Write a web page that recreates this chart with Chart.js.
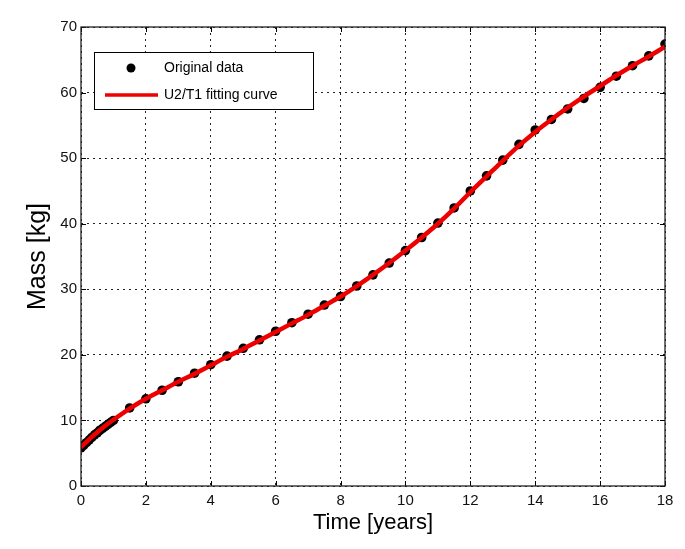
<!DOCTYPE html>
<html>
<head>
<meta charset="utf-8">
<script src="https://cdn.jsdelivr.net/npm/chart.js@4/dist/chart.umd.min.js"></script>
<style>
html,body{margin:0;padding:0;background:#fff;}
#wrap{width:685px;height:549px;}
</style>
</head>
<body>
<div id="wrap"><canvas id="c" width="685" height="549"></canvas></div>
<script>
// Original data (time in years, mass in kg)
const dataTime = [0, 0.083, 0.167, 0.25, 0.333, 0.417, 0.5, 0.583, 0.667, 0.75, 0.833, 0.917, 1.0,
  1.5, 2, 2.5, 3, 3.5, 4, 4.5, 5, 5.5, 6, 6.5, 7, 7.5, 8, 8.5, 9, 9.5, 10, 10.5, 11, 11.5, 12,
  12.5, 13, 13.5, 14, 14.5, 15, 15.5, 16, 16.5, 17, 17.5, 18];
const dataMass = [5.8, 6.2, 6.6, 7.0, 7.4, 7.8, 8.1, 8.5, 8.8, 9.1, 9.4, 9.7, 10.0,
  11.9, 13.3, 14.6, 15.9, 17.2, 18.5, 19.8, 21.0, 22.3, 23.6, 24.9, 26.2, 27.6, 28.9, 30.5, 32.2, 34.0, 35.9,
  37.9, 40.1, 42.4, 45.0, 47.3, 49.7, 52.1, 54.3, 55.9, 57.5, 59.1, 60.8, 62.5, 64.1, 65.6, 67.4];
// U2/T1 fitting curve
const fitTime = [0, 0.25, 0.5, 0.75, 1, 1.5, 2, 2.5, 3, 3.5, 4, 4.5, 5, 5.5, 6, 6.5, 7, 7.5, 8, 8.5, 9,
  9.5, 10, 10.5, 11, 11.5, 12, 12.5, 13, 13.5, 14, 14.5, 15, 15.5, 16, 16.5, 17, 17.5, 18];
const fitMass = [5.9, 7.1, 8.2, 9.2, 10.1, 11.8, 13.3, 14.6, 15.9, 17.1, 18.4, 19.7, 20.9, 22.2, 23.5, 24.8, 26.1,
  27.5, 28.9, 30.5, 32.2, 34.0, 35.9, 37.9, 40.0, 42.3, 44.8, 47.2, 49.6, 51.9, 54.0, 55.9, 57.7, 59.4, 61.0,
  62.6, 64.1, 65.5, 67.0];
const xTicks = [0, 2, 4, 6, 8, 10, 12, 14, 16, 18];
const yTicks = [0, 10, 20, 30, 40, 50, 60, 70];
const legendLabels = ['Original data', 'U2/T1 fitting curve'];
const xTitle = 'Time [years]';
const yTitle = 'Mass [kg]';

const FONT = '"Liberation Sans", Arial, Helvetica, sans-serif';

const frameAndLegend = {
  id: 'frameAndLegend',
  afterDraw(chart) {
    const ctx = chart.ctx;
    const a = chart.chartArea;
    const xs = chart.scales.x, ys = chart.scales.y;
    ctx.save();
    // inner tick marks
    ctx.strokeStyle = '#000';
    ctx.lineWidth = 1;
    ctx.beginPath();
    xTicks.forEach(t => {
      const px = Math.round(xs.getPixelForValue(t)) + 0.5;
      ctx.moveTo(px, a.bottom); ctx.lineTo(px, a.bottom - 5);
      ctx.moveTo(px, a.top); ctx.lineTo(px, a.top + 5);
    });
    yTicks.forEach(t => {
      const py = Math.round(ys.getPixelForValue(t)) + 0.5;
      ctx.moveTo(a.left, py); ctx.lineTo(a.left + 5, py);
      ctx.moveTo(a.right, py); ctx.lineTo(a.right - 5, py);
    });
    ctx.stroke();
    // frame
    ctx.lineWidth = 1.3;
    ctx.strokeStyle = '#222';
    ctx.strokeRect(a.left, a.top, a.right - a.left, a.bottom - a.top);
    // legend
    const lx = 94, ly = 52, lw = 219, lh = 57;
    ctx.fillStyle = '#fff';
    ctx.fillRect(lx, ly, lw, lh);
    ctx.lineWidth = 1;
    ctx.strokeStyle = '#000';
    ctx.strokeRect(lx + 0.5, ly + 0.5, lw, lh);
    ctx.fillStyle = '#000';
    ctx.beginPath();
    ctx.arc(131, 68, 4.5, 0, Math.PI * 2);
    ctx.fill();
    ctx.strokeStyle = '#ee0000';
    ctx.lineWidth = 3.5;
    ctx.beginPath();
    ctx.moveTo(105, 95); ctx.lineTo(158, 95);
    ctx.stroke();
    ctx.fillStyle = '#000';
    ctx.font = '14px ' + FONT;
    ctx.textBaseline = 'middle';
    ctx.textAlign = 'left';
    ctx.fillText(legendLabels[0], 164, 68);
    ctx.fillText(legendLabels[1], 164, 95);
    ctx.restore();
  }
};

new Chart(document.getElementById('c'), {
  type: 'scatter',
  data: {
    datasets: [
      {
        label: legendLabels[0],
        data: dataTime.map((t, i) => ({x: t, y: dataMass[i]})),
        showLine: false,
        pointRadius: 4.8,
        pointBackgroundColor: '#000',
        pointBorderColor: '#000',
        pointBorderWidth: 0,
        order: 2
      },
      {
        label: legendLabels[1],
        data: fitTime.map((t, i) => ({x: t, y: fitMass[i]})),
        showLine: true,
        borderColor: '#ee0000',
        borderWidth: 4.5,
        pointRadius: 0,
        cubicInterpolationMode: 'monotone',
        fill: false,
        order: 1
      }
    ]
  },
  options: {
    responsive: false,
    animation: false,
    devicePixelRatio: 1,
    layout: {padding: {left: 0, top: 27, right: 20, bottom: 0}},
    plugins: {legend: {display: false}, tooltip: {enabled: false}},
    scales: {
      x: {
        type: 'linear', min: 0, max: 18,
        afterBuildTicks: s => { s.ticks = xTicks.map(v => ({value: v})); },
        afterFit: s => { s.height = 63; },
        ticks: {color: '#111', font: {family: FONT, size: 15}, padding: 6, maxRotation: 0},
        grid: {color: '#222', lineWidth: 1, drawTicks: false, tickLength: 0},
        border: {display: false, dash: [2, 4]},
        title: {display: true, text: xTitle, color: '#000', font: {family: FONT, size: 22}, padding: {top: 0, bottom: 13}}
      },
      y: {
        type: 'linear', min: 0, max: 70,
        afterBuildTicks: s => { s.ticks = yTicks.map(v => ({value: v})); },
        afterFit: s => { s.width = 81; },
        ticks: {color: '#111', font: {family: FONT, size: 15}, padding: 4},
        grid: {color: '#222', lineWidth: 1, drawTicks: false, tickLength: 0},
        border: {display: false, dash: [2, 4]},
        title: {display: true, text: yTitle, color: '#000', font: {family: FONT, size: 25}, padding: {top: 23, bottom: 0}}
      }
    }
  },
  plugins: [frameAndLegend]
});
</script>
</body>
</html>
